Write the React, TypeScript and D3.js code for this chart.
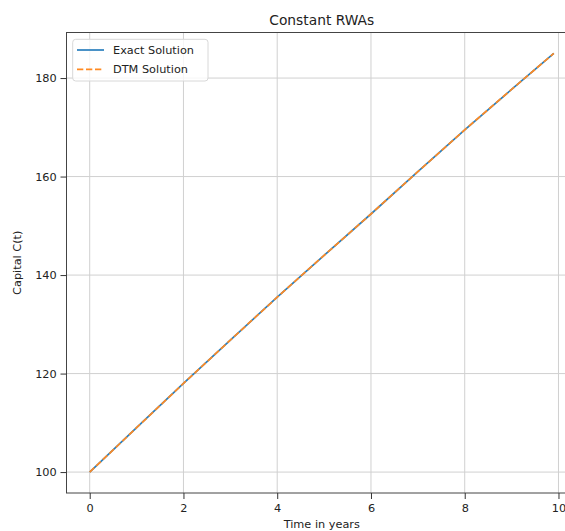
import { useEffect, useRef } from "react";
import * as d3 from "d3";

// values
const years = [0, 1, 2, 3, 4, 5, 6, 7, 8, 9, 9.9];
const exactCapital = [100, 109, 118, 126.8, 135.5, 144, 152.4, 161, 169.5, 177.7, 185];
const dtmCapital = [100, 109, 118, 126.8, 135.5, 144, 152.4, 161, 169.5, 177.7, 185];
const xTicks = [0, 2, 4, 6, 8, 10];
const yTicks = [100, 120, 140, 160, 180];
const legendLabels = ["Exact Solution", "DTM Solution"];

const width = 565;
const height = 531;
const marginLeft = 66.5;
const marginTop = 32.5;
const plotRight = 577; // axes run off the right edge in the reference
const plotBottom = 493;
const font = "DejaVu Sans, sans-serif";
const blue = "#2a7fbd";
const orange = "#ff8a22";

// matplotlib-style 5% padding around the data extent
const pad = (lo: number, hi: number): [number, number] => [lo - (hi - lo) * 0.05, hi + (hi - lo) * 0.05];

const App = () => {
  const gx = useRef<SVGGElement>(null);
  const gy = useRef<SVGGElement>(null);

  const [x0, x1] = d3.extent(years) as [number, number];
  const [y0, y1] = d3.extent([...exactCapital, ...dtmCapital]) as [number, number];
  const x = d3.scaleLinear().domain(pad(x0, x1)).range([marginLeft, plotRight]);
  const y = d3.scaleLinear().domain(pad(y0, y1)).range([plotBottom, marginTop]);

  const line = d3
    .line<number>()
    .x((d, i) => x(years[i]))
    .y((d) => y(d));

  useEffect(() => {
    const g = d3.select(gx.current!);
    g.call(d3.axisBottom(x).tickValues(xTicks).tickSize(6).tickPadding(4.5).tickFormat(d3.format("d")));
    g.select(".domain").remove();
    g.selectAll("line").attr("stroke", "#333");
    g.selectAll("text").attr("fill", "#222").style("font-size", "11.3px").style("font-family", font);
  }, []);

  useEffect(() => {
    const g = d3.select(gy.current!);
    g.call(d3.axisLeft(y).tickValues(yTicks).tickSize(6).tickPadding(3.8).tickFormat(d3.format("d")));
    g.select(".domain").remove();
    g.selectAll("line").attr("stroke", "#333");
    g.selectAll("text").attr("fill", "#222").style("font-size", "11.3px").style("font-family", font);
  }, []);

  return (
    <svg
      width={width}
      height={height}
      style={{ position: "absolute", left: 0, top: 0, background: "#fff", fontFamily: font }}
    >
      {/* grid */}
      <g stroke="#d0d0d0" strokeWidth={1}>
        {xTicks.map((t) => (
          <line key={"gx" + t} x1={x(t)} x2={x(t)} y1={marginTop} y2={plotBottom} />
        ))}
        {yTicks.map((t) => (
          <line key={"gy" + t} x1={marginLeft} x2={plotRight} y1={y(t)} y2={y(t)} />
        ))}
      </g>

      <path fill="none" stroke={blue} strokeWidth={1.7} d={line(exactCapital)!} />
      <path fill="none" stroke={orange} strokeWidth={1.7} strokeDasharray="6.3,2.7" d={line(dtmCapital)!} />

      {/* spines */}
      <rect
        x={marginLeft}
        y={marginTop}
        width={plotRight - marginLeft}
        height={plotBottom - marginTop}
        fill="none"
        stroke="#444"
        strokeWidth={1}
      />

      <g ref={gx} transform={`translate(0,${plotBottom})`} />
      <g ref={gy} transform={`translate(${marginLeft},0)`} />

      <text x={(marginLeft + plotRight) / 2} y={25} textAnchor="middle" fontSize={13.8} fill="#222">
        Constant RWAs
      </text>
      <text x={(marginLeft + plotRight) / 2} y={528} textAnchor="middle" fontSize={11.3} fill="#222">
        Time in years
      </text>
      <text
        transform={`translate(20.5,${(marginTop + plotBottom) / 2}) rotate(-90)`}
        textAnchor="middle"
        fontSize={11.3}
        fill="#222"
      >
        Capital C(t)
      </text>

      {/* legend */}
      <g>
        <rect x={72.7} y={39.3} width={135.3} height={41.7} rx={3} fill="#fff" fillOpacity={0.8} stroke="#d8d8d8" />
        {legendLabels.map((label, i) => (
          <g key={label} transform={`translate(0,${50 + i * 19.3})`}>
            <line
              x1={77}
              x2={104}
              y1={0}
              y2={0}
              stroke={i === 0 ? blue : orange}
              strokeWidth={1.7}
              strokeDasharray={i === 0 ? undefined : "6.3,2.7"}
            />
            <text x={113} y={4} fontSize={11.3} fill="#222">
              {label}
            </text>
          </g>
        ))}
      </g>
    </svg>
  );
};

export default App;
